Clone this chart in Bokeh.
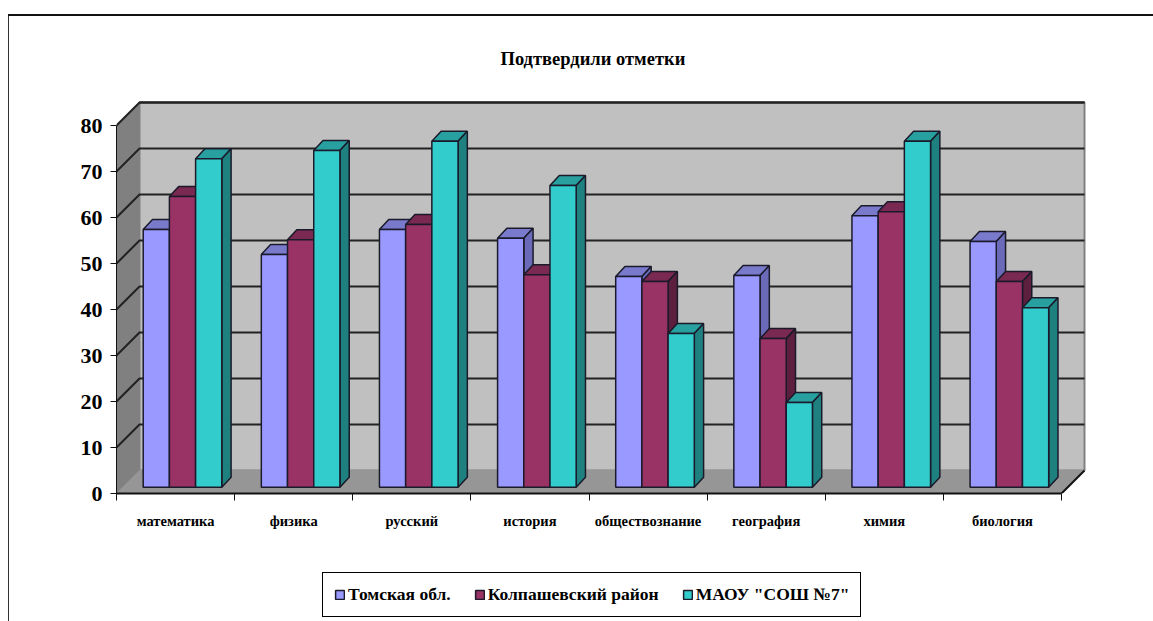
from bokeh.plotting import figure
from bokeh.layouts import column
from bokeh.models import (Range1d, LinearAxis, FixedTicker, Legend, LegendItem, Title)
from bokeh.embed import file_html
from bokeh.resources import INLINE

title = "Подтвердили отметки"
categories = ["математика", "физика", "русский", "история", "обществознание", "география", "химия", "биология"]
y_ticks = [0, 10, 20, 30, 40, 50, 60, 70, 80]
tomsk = [56.0, 50.6, 56.0, 54.1, 45.8, 46.0, 59.0, 53.4]
kolpashevo = [63.2, 53.8, 57.1, 46.2, 44.7, 32.3, 59.9, 44.7]
school = [71.4, 73.2, 75.2, 65.6, 33.4, 18.4, 75.2, 39.0]
series_names = ["Томская обл.", "Колпашевский район", 'МАОУ "СОШ №7"']

FONT = "Liberation Serif"
PX_X = 118.125   # px per category
PX_Y = 4.6       # px per value unit
WALL_X = 23 / PX_X
WALL_Y = 23 / PX_Y
BAR_OFF = 0.1727
BAR_W = 26.2 / PX_X
B1X, B1Y = 6.3 / PX_X, 6.3 / PX_Y
B2X, B2Y = 15.6 / PX_X, 16.3 / PX_Y

n = len(categories)
frame_w, frame_h = 971, 394
W, H, H2 = 1153, 560, 61
p = figure(width=W, height=H, output_backend="svg", toolbar_location=None,
           x_range=Range1d(0, frame_w / PX_X), y_range=Range1d(0, frame_h / PX_Y),
           x_axis_type=None, y_axis_type=None, min_border_left=116,
           min_border_right=W - 116 - frame_w, min_border_top=H - 67 - frame_h,
           min_border_bottom=67, outline_line_color=None, border_fill_color=None)
p.styles = {"background": "linear-gradient(#111,#111) 8px 14px / 100% 2px no-repeat, "
                          "linear-gradient(#333,#333) 8px 14px / 1px 100% no-repeat, #fff"}
p.xgrid.visible = False
p.ygrid.visible = False

top_v = y_ticks[-1]
# walls and floor
p.patch([0, WALL_X, WALL_X, 0], [0, WALL_Y, top_v + WALL_Y, top_v], fill_color="#808080", line_color="#808080")
p.patch([WALL_X, n + WALL_X, n + WALL_X, WALL_X], [WALL_Y, WALL_Y, top_v + WALL_Y, top_v + WALL_Y],
        fill_color="#C0C0C0", line_color="#808080", line_width=2)
p.line([WALL_X, n + WALL_X], [top_v + WALL_Y, top_v + WALL_Y], line_color="#222222", line_width=2)
p.patch([0, n, n + WALL_X, WALL_X], [0, 0, WALL_Y, WALL_Y], fill_color="#969696", line_color="#969696")
p.line([n, n + WALL_X], [0, WALL_Y], line_color="#111111", line_width=2)
# gridlines
p.multi_line([[0, WALL_X, n + WALL_X] for v in y_ticks[1:]],
             [[v, v + WALL_Y, v + WALL_Y] for v in y_ticks[1:]],
             line_color="#222222", line_width=2)

colors = [("#9999FF", "#7A7ACC", "#6A6AB8"), ("#993366", "#7A2952", "#5C1F3D"), ("#33CCCC", "#29A0A0", "#1F8080")]
for s, (vals, (front, top, side)) in enumerate(zip([tomsk, kolpashevo, school], colors)):
    lefts = [i + BAR_OFF + s * BAR_W + B1X for i in range(n)]
    rights = [l + BAR_W for l in lefts]
    dx, dy = B2X - B1X, B2Y - B1Y
    p.patches([[l, r, r + dx, l + dx] for l, r in zip(lefts, rights)],
              [[v + B1Y, v + B1Y, v + B1Y + dy, v + B1Y + dy] for v in vals],
              fill_color=top, line_color="#1A1A2A", line_width=1.5)
    p.patches([[r, r + dx, r + dx, r] for r in rights],
              [[B1Y, B1Y + dy, v + B1Y + dy, v + B1Y] for v in vals],
              fill_color=side, line_color="#1A1A2A", line_width=1.5)
    p.quad(left=lefts, right=rights, bottom=B1Y, top=[v + B1Y for v in vals],
           fill_color=front, line_color="#1A1A2A", line_width=1.5)

# axes
ya = LinearAxis(ticker=FixedTicker(ticks=y_ticks), bounds=(0, top_v))
ya.major_tick_out = 6
ya.major_tick_in = 0
ya.minor_tick_out = 0
ya.minor_tick_in = 0
ya.major_tick_line_color = "#111111"
ya.axis_line_color = "#111111"
ya.major_label_standoff = 8
ya.major_label_text_font = FONT
ya.major_label_text_font_style = "bold"
ya.major_label_text_font_size = "22px"
ya.major_label_text_color = "#000000"
p.add_layout(ya, "left")

xa = LinearAxis(ticker=FixedTicker(ticks=[i + 0.5 for i in range(n)], minor_ticks=list(range(n + 1))),
                bounds=(0, n))
xa.major_label_overrides = {i + 0.5: c for i, c in enumerate(categories)}
xa.major_tick_out = 0
xa.major_tick_in = 0
xa.minor_tick_out = 7
xa.minor_tick_in = 0
xa.minor_tick_line_color = "#111111"
xa.axis_line_color = "#111111"
xa.axis_line_width = 2
xa.major_label_standoff = 12
xa.major_label_text_font = FONT
xa.major_label_text_font_style = "bold"
xa.major_label_text_font_size = "14.5px"
xa.major_label_text_color = "#000000"
p.add_layout(xa, "below")

p.add_layout(Title(text=title, align="left", offset=384, standoff=61, text_font=FONT,
                   text_font_style="bold", text_font_size="18.5px", text_color="#000000"), "above")

# legend strip under the chart
q = figure(width=W, height=H2, output_backend="svg", toolbar_location=None,
           x_range=Range1d(0, 1), y_range=Range1d(0, 1), x_axis_type=None, y_axis_type=None,
           min_border=0, outline_line_color=None, border_fill_color=None, background_fill_color=None)
q.styles = {"background": "linear-gradient(#333,#333) 8px 0 / 1px 100% no-repeat, #fff"}
q.xgrid.visible = False
q.ygrid.visible = False
swatches = [q.quad(left=[2], right=[3], top=[3], bottom=[2], fill_color=c[0], line_color="#1A1A2A", line_width=1.5)
            for c in colors]
legend = Legend(items=[LegendItem(label=nm, renderers=[r]) for nm, r in zip(series_names, swatches)],
                orientation="horizontal", location=(206, 4), glyph_width=11, glyph_height=11,
                label_text_font=FONT, label_text_font_style="bold", label_text_font_size="17.5px",
                label_text_color="#000000", border_line_color="#000000", border_line_alpha=1, border_line_width=1.5,
                background_fill_color="#FFFFFF", background_fill_alpha=1, padding=11, margin=0,
                spacing=23, label_standoff=3)
q.add_layout(legend)

open("out.html", "w").write(file_html(column(p, q, spacing=0), INLINE))
